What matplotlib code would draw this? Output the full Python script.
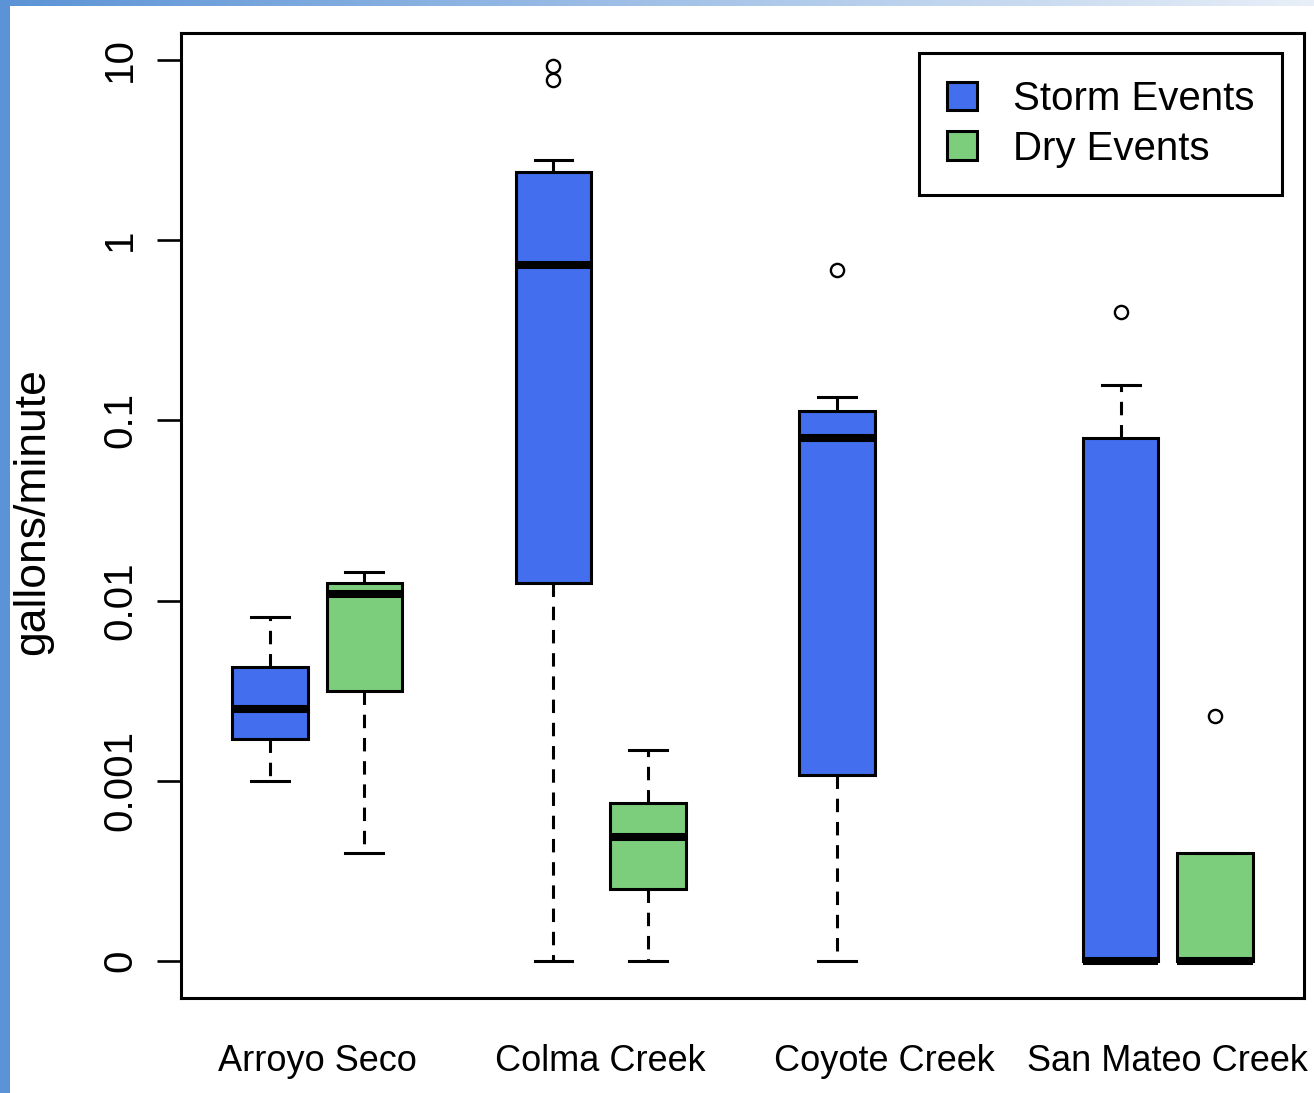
import numpy as np
import matplotlib
matplotlib.use("Agg")
import matplotlib.pyplot as plt
from matplotlib.patches import Patch, Rectangle

plt.rcParams['font.family'] = ['Liberation Sans', 'DejaVu Sans']

# Lưu lượng (gallons/minute) theo từng con suối
sites = ["Arroyo Seco", "Colma Creek", "Coyote Creek", "San Mateo Creek"]

# Storm events: whisker dưới, Q1, trung vị, Q3, whisker trên, điểm ngoại lai
storm_whislo = [0.001, 0.0, 0.0, 0.0]
storm_q1 = [0.0017, 0.0125, 0.00108, 0.0]
storm_med = [0.0025, 0.73, 0.080, 0.0]
storm_q3 = [0.0043, 2.4, 0.113, 0.080]
storm_whishi = [0.0081, 2.8, 0.135, 0.157]
storm_fliers = [[], [7.7, 9.3], [0.68], [0.40]]

# Dry events (Coyote Creek không có số liệu)
dry_whislo = [0.0004, 0.0, None, 0.0]
dry_q1 = [0.00315, 0.00025, None, 0.0]
dry_med = [0.0109, 0.00049, None, 0.0]
dry_q3 = [0.0125, 0.00075, None, 0.0004]
dry_whishi = [0.0144, 0.00148, None, 0.0004]
dry_fliers = [[], [], None, [0.0023]]

ytick_values = [0.0, 0.001, 0.01, 0.1, 1, 10]
ytick_labels = ["0", "0.001", "0.01", "0.1", "1", "10"]

storm_color = "#436EEE"
dry_color = "#7CCD7C"

# Giá trị 0 được đặt tại 1e-4 trên trục log
ZERO_AT = 1e-4


def floor0(v):
    return max(v, ZERO_AT)


def make_stats(whislo, q1, med, q3, whishi, fliers):
    out = []
    for i in range(len(sites)):
        if med[i] is None:
            out.append(None)
            continue
        out.append(dict(whislo=floor0(whislo[i]), q1=floor0(q1[i]),
                        med=floor0(med[i]), q3=floor0(q3[i]),
                        whishi=floor0(whishi[i]),
                        fliers=[floor0(f) for f in fliers[i]]))
    return out


storm_stats = make_stats(storm_whislo, storm_q1, storm_med, storm_q3, storm_whishi, storm_fliers)
dry_stats = make_stats(dry_whislo, dry_q1, dry_med, dry_q3, dry_whishi, dry_fliers)

fig = plt.figure(figsize=(13.14, 10.93), dpi=100)
ax = fig.add_axes([181 / 1314, 1 - 998 / 1093, 1123 / 1314, 965 / 1093])

lw = 2.2
common = dict(
    widths=0.8,
    patch_artist=True,
    manage_ticks=False,
    whiskerprops=dict(color="black", linewidth=lw, linestyle=(0, (4.4, 3.2))),
    capprops=dict(color="black", linewidth=lw),
    medianprops=dict(color="black", linewidth=5.8, solid_capstyle="butt"),
    flierprops=dict(marker="o", markerfacecolor="none", markeredgecolor="black",
                    markersize=9.5, markeredgewidth=1.7),
)

for k, (s, d) in enumerate(zip(storm_stats, dry_stats)):
    base = 1 + 3 * k
    for st, pos, col in ((s, base, storm_color), (d, base + 1, dry_color)):
        if st is None:
            continue
        ax.bxp([st], positions=[pos],
               boxprops=dict(facecolor=col, edgecolor="black", linewidth=lw),
               **common)

ax.set_yscale("log")
ax.set_ylim(10 ** -4.2053, 10 ** 1.1498)
ax.set_xlim(0.06, 11.94)
ax.minorticks_off()

ax.set_yticks([floor0(v) for v in ytick_values])
ax.set_yticklabels(ytick_labels, rotation=90, va="center", fontsize=29)
ax.tick_params(axis="y", direction="out", length=17, width=1.9, pad=13)

ax.set_xticks([1.5 + 3 * k for k in range(len(sites))])
ax.set_xticklabels(sites, fontsize=26)
ax.tick_params(axis="x", length=0, pad=33)

for sp in ax.spines.values():
    sp.set_linewidth(lw)

fig.text(33 / 1314, 1 - 512 / 1093, "gallons/minute", rotation=90,
         ha="center", va="center", fontsize=32)

handles = [Patch(facecolor=storm_color, edgecolor="black", linewidth=lw),
           Patch(facecolor=dry_color, edgecolor="black", linewidth=lw)]
leg = ax.legend(handles, ["Storm Events", "Dry Events"], loc="upper right",
                bbox_to_anchor=(1 - 22 / 1123, 1 - 20 / 965), fontsize=29,
                handlelength=0.75, handleheight=0.7, handletextpad=0.9,
                labelspacing=0.28, borderpad=0.68, fancybox=False,
                framealpha=1, edgecolor="black", borderaxespad=0)
leg.get_frame().set_linewidth(lw)

# Viền xanh ở cạnh trái và dải chuyển màu ở cạnh trên
fig.add_artist(Rectangle((0, 0), 10 / 1314, 1, transform=fig.transFigure,
                         facecolor="#5B93D6", edgecolor="none"))
c0 = np.array([0x5B, 0x93, 0xD6]) / 255
c1 = np.array([0xE8, 0xEF, 0xF8]) / 255
t = np.linspace(0, 1, 1314)[None, :, None]
grad = np.repeat(c0 + (c1 - c0) * t, 6, axis=0)
fig.figimage(grad, xo=0, yo=1093 - 6, origin="upper")

fig.savefig("out.png", dpi=100)
